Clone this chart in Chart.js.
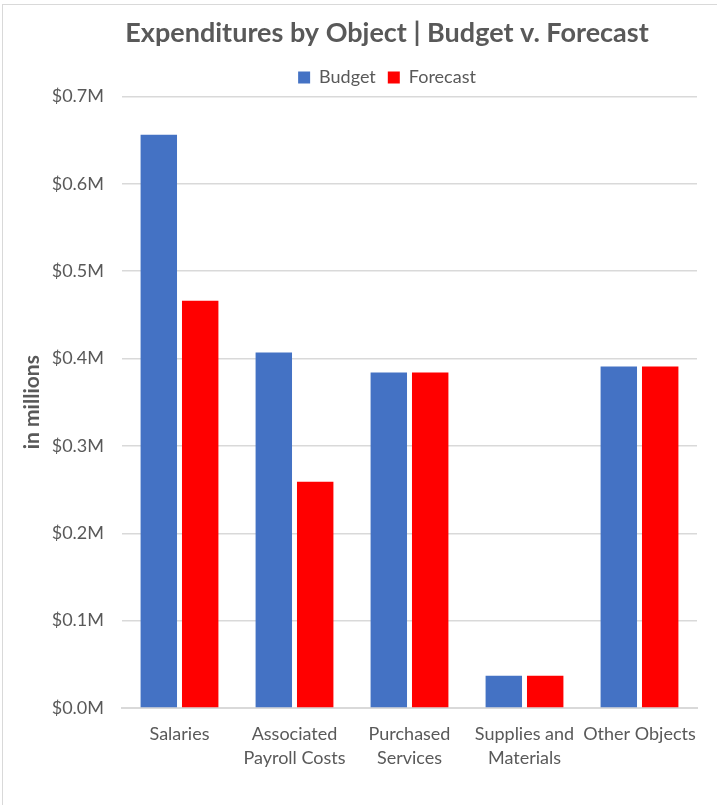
<!DOCTYPE html>
<html>
<head>
<meta charset="utf-8">
<script src="https://cdn.jsdelivr.net/npm/chart.js@4.4.1/dist/chart.umd.min.js"></script>
<style>
  html, body { margin: 0; padding: 0; background: #fff; overflow: hidden; }
  #frame {
    position: absolute; left: 2px; top: 4px;
    width: 768px; height: 830px;
    border: 1px solid #d9d9d9; background: #fff;
  }
  #chart { display: block; }
</style>
</head>
<body>
<div id="frame"><canvas id="chart" width="768" height="830"></canvas></div>
<script>
// Expenditure categories and amounts (in millions of dollars)
const categories = [
  'Salaries',
  ['Associated', 'Payroll Costs'],
  ['Purchased', 'Services'],
  ['Supplies and', 'Materials'],
  'Other Objects'
];
const budget   = [0.656, 0.407, 0.384, 0.037, 0.391];
const forecast = [0.466, 0.259, 0.384, 0.037, 0.391];
const yTicks = { min: 0, max: 0.7, step: 0.1 };

const grey = '#595959';
const gridGrey = '#d9d9d9';
const fontFamily = 'Lato, "Open Sans", sans-serif';

new Chart(document.getElementById('chart'), {
  type: 'bar',
  data: {
    labels: categories,
    datasets: [
      { label: 'Budget', data: budget, backgroundColor: '#4472C4' },
      { label: 'Forecast', data: forecast, backgroundColor: '#FF0000' }
    ]
  },
  options: {
    responsive: false,
    animation: false,
    devicePixelRatio: 1,
    datasets: { bar: { categoryPercentage: 0.72, barPercentage: 0.88 } },
    layout: { padding: { left: 0, right: 0, top: 0, bottom: 57 } },
    plugins: {
      title: {
        display: true,
        text: 'Expenditures by Object | Budget v. Forecast',
        color: grey,
        font: { family: fontFamily, size: 27, weight: 'bold' },
        padding: { top: 12, bottom: 7 }
      },
      legend: {
        display: true,
        position: 'top',
        labels: {
          color: grey,
          font: { family: fontFamily, size: 18 },
          boxWidth: 12,
          boxHeight: 12,
          padding: 12
        }
      },
      tooltip: { enabled: false }
    },
    scales: {
      x: {
        grid: { display: false, drawTicks: false },
        border: { display: true, color: gridGrey, width: 2 },
        ticks: {
          color: grey,
          font: { family: fontFamily, size: 18, lineHeight: 1.33 },
          maxRotation: 0,
          autoSkip: false,
          padding: 14
        },
        afterFit: (axis) => { axis.height = 70; }
      },
      y: {
        min: yTicks.min,
        max: yTicks.max,
        title: {
          display: true,
          text: 'in millions',
          color: grey,
          font: { family: fontFamily, size: 21, weight: 'bold' },
          padding: { top: 17, bottom: 8 }
        },
        grid: { color: gridGrey, lineWidth: 1.5, drawTicks: false },
        border: { display: false },
        ticks: {
          stepSize: yTicks.step,
          color: grey,
          font: { family: fontFamily, size: 18 },
          padding: 18,
          callback: (v) => '$' + Number(v).toFixed(1) + 'M'
        },
        afterFit: (axis) => { axis.width = 119; }
      },
      // empty right-hand margin of the plot area
      margin: {
        type: 'linear',
        position: 'right',
        display: true,
        grid: { display: false, drawTicks: false },
        border: { display: false },
        ticks: { display: false },
        afterFit: (axis) => { axis.width = 74; }
      }
    }
  }
});
</script>
</body>
</html>
